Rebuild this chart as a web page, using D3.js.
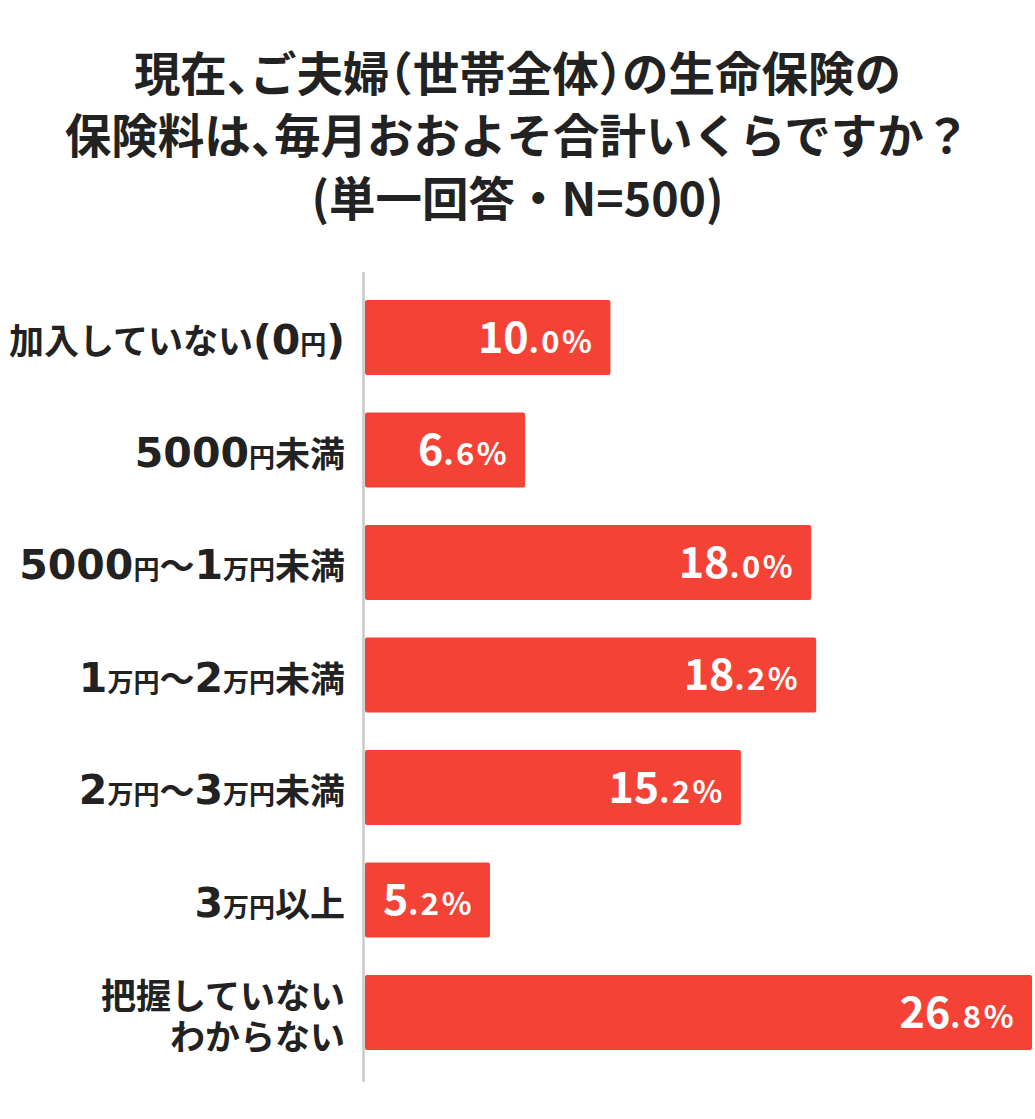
<!DOCTYPE html>
<html>
<head>
<meta charset="utf-8">
<script src="https://cdn.jsdelivr.net/npm/d3@7"></script>
<style>
  body { margin: 0; background: #fff; }
  svg { display: block; }
  .title-halt { font-feature-settings: "halt"; }
</style>
</head>
<body>
<div id="chart"></div>
<script>
// data
const titleLines = [
  '現在、ご夫婦（世帯全体）の生命保険の',
  '保険料は、毎月おおよそ合計いくらですか？',
  '(単一回答・N=500)'
]
const categories = [
  '加入していない(0円)',
  '5000円未満',
  '5000円〜1万円未満',
  '1万円〜2万円未満',
  '2万円〜3万円未満',
  '3万円以上',
  '把握していない\nわからない'
]
const values = [10.0, 6.6, 18.0, 18.2, 15.2, 5.2, 26.8]

const width = 1035
const height = 1119
const BAR_COLOR = '#f44336'
const TEXT_COLOR = '#222'
const JP_FONT = '"Noto Sans CJK JP", "Noto Sans", sans-serif'
const NUM_FONT = '"DejaVu Sans", sans-serif'
const AXIS_X = 363.5

const svg = d3.select('#chart').append('svg')
  .attr('width', width)
  .attr('height', height)

// Title (half-width punctuation on the two question lines)
svg.append('g')
  .selectAll('text')
  .data(titleLines)
  .enter()
  .append('text')
  .attr('class', (d, i) => i < 2 ? 'title-halt' : null)
  .attr('x', width / 2)
  .attr('y', (d, i) => [91, 153, 216][i])
  .attr('text-anchor', 'middle')
  .attr('font-family', JP_FONT)
  .attr('font-size', 46.5)
  .attr('font-weight', 'bold')
  .attr('fill', TEXT_COLOR)
  .text(d => d)

const x = d3.scaleLinear()
  .domain([0, 26.8])
  .range([359.5, 1032])

const y = d3.scaleBand()
  .domain(categories)
  .range([281.25, 1068.75])
  .paddingInner(1 / 3)
  .paddingOuter(1 / 6)

// bars start just right of the axis line
const barStart = AXIS_X + 1.5
svg.append('g')
  .selectAll('rect')
  .data(values)
  .enter()
  .append('rect')
  .attr('x', barStart)
  .attr('y', (d, i) => y(categories[i]))
  .attr('width', d => x(d) - barStart)
  .attr('height', y.bandwidth())
  .attr('rx', 2)
  .attr('fill', BAR_COLOR)

// axis line
svg.append('line')
  .attr('x1', AXIS_X)
  .attr('x2', AXIS_X)
  .attr('y1', 272)
  .attr('y2', 1082)
  .attr('stroke', '#c8c8c8')
  .attr('stroke-width', 2.5)

// value labels: big integer part, smaller decimal + %
const valueLabels = svg.append('g')
  .selectAll('text')
  .data(values)
  .enter()
  .append('text')
  .attr('x', d => x(d) - 16)
  .attr('y', (d, i) => y(categories[i]) + y.bandwidth() / 2 + 15)
  .attr('text-anchor', 'end')
  .attr('font-family', JP_FONT)
  .attr('font-weight', 'bold')
  .attr('fill', '#fff')

valueLabels.append('tspan')
  .attr('font-size', 43)
  .text(d => d.toFixed(1).split('.')[0])
valueLabels.append('tspan')
  .attr('font-size', 31)
  .attr('letter-spacing', 2.5)
  .text(d => '.' + d.toFixed(1).split('.')[1] + '%')

// category labels: digits larger, 円/万 smaller
const splitParts = s => s.match(/[0-9()]+|[円万]|[^0-9()円万]+/g)

const labelGroup = svg.append('g')
categories.forEach(cat => {
  const lines = cat.split('\n')
  const mid = y(cat) + y.bandwidth() / 2
  const t = labelGroup.append('text')
    .attr('y', mid + 16.5 - (lines.length - 1) / 2 * 41)
    .attr('text-anchor', 'end')
    .attr('font-weight', 'bold')
    .attr('fill', TEXT_COLOR)
  lines.forEach((line, li) => {
    splitParts(line).forEach((p, pi) => {
      const ts = t.append('tspan').text(p)
      if (pi === 0) ts.attr('x', 345).attr('dy', li === 0 ? 0 : 41)
      if (/^[0-9()]+$/.test(p)) {
        ts.attr('font-family', NUM_FONT).attr('font-size', 41)
      } else if (p === '円' || p === '万') {
        ts.attr('font-family', JP_FONT).attr('font-size', 26)
      } else {
        ts.attr('font-family', JP_FONT).attr('font-size', 35)
      }
    })
  })
})
</script>
</body>
</html>
